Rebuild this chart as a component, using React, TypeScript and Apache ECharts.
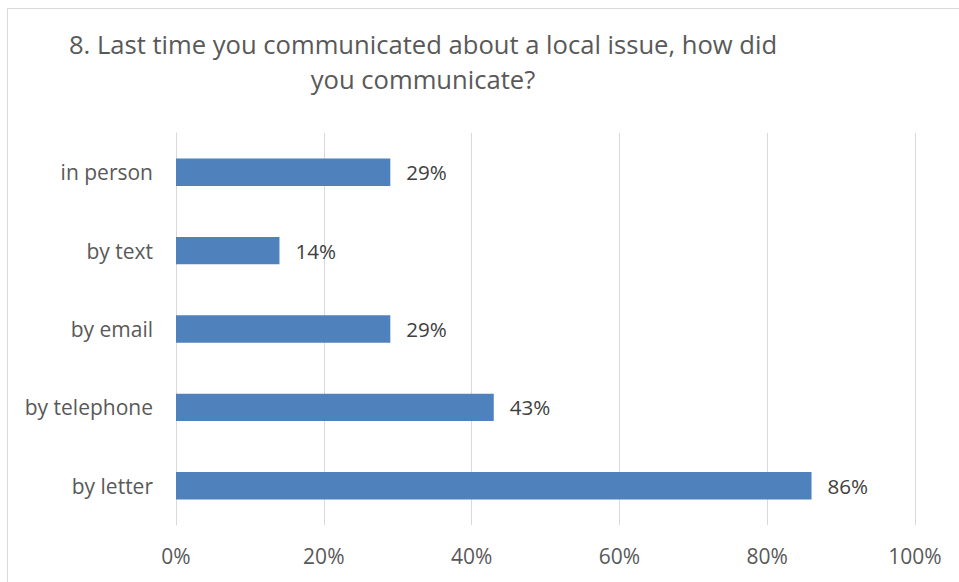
import React, { useEffect, useRef } from "react";
import * as echarts from "echarts";

const categories = ["in person", "by text", "by email", "by telephone", "by letter"];
const values = [29, 14, 29, 43, 86];
const xTicks = [0, 20, 40, 60, 80, 100];
const titleLines = ["8. Last time you communicated about a local issue, how did", "you communicate?"];

export default function App() {
  const ref = useRef<HTMLDivElement>(null);
  useEffect(() => {
    if (!ref.current) return;
    const chart = echarts.init(ref.current, undefined, { renderer: "svg" });
    const font = "'Open Sans', 'Liberation Sans', sans-serif";
    chart.setOption({
      animation: false,
      backgroundColor: "#ffffff",
      textStyle: { fontFamily: font },
      graphic: [
        {
          type: "rect",
          shape: { x: 7.5, y: 8.5, width: 1000, height: 1000 },
          style: { fill: "none", stroke: "#d9d9d9", lineWidth: 1 },
          silent: true,
        },
        {
          type: "text",
          x: 423,
          y: 44,
          style: {
            text: titleLines[0],
            font: `25.6px ${font}`,
            fill: "#595959",
            textAlign: "center",
            textVerticalAlign: "middle",
          },
        },
        {
          type: "text",
          x: 423,
          y: 79,
          style: {
            text: titleLines[1],
            font: `25.6px ${font}`,
            fill: "#595959",
            textAlign: "center",
            textVerticalAlign: "middle",
          },
        },
      ],
      grid: { left: 176, right: 44, top: 133, bottom: 57, containLabel: false },
      xAxis: {
        type: "value",
        min: xTicks[0],
        max: xTicks[xTicks.length - 1],
        interval: 20,
        axisLine: { show: false },
        axisTick: { show: false },
        splitLine: { show: true, lineStyle: { color: "#d9d9d9", width: 1 } },
        axisLabel: {
          formatter: (v: number) => `${v}%`,
          color: "#595959",
          fontSize: 21,
          fontFamily: font,
          margin: 20,
        },
      },
      yAxis: {
        type: "category",
        data: categories,
        inverse: true,
        axisLine: { show: true, lineStyle: { color: "#d9d9d9", width: 1 } },
        axisTick: { show: false },
        axisLabel: { color: "#595959", fontSize: 21, fontFamily: font, margin: 23 },
      },
      series: [
        {
          type: "bar",
          data: values,
          barWidth: "35%",
          itemStyle: { color: "#4f81bd" },
          label: {
            show: true,
            position: "right",
            distance: 16,
            formatter: (p: any) => `${p.value}%`,
            color: "#404040",
            fontSize: 20.6,
            fontFamily: font,
          },
        },
      ],
    });
    return () => chart.dispose();
  }, []);
  return (
    <div
      ref={ref}
      style={{ position: "fixed", left: 0, top: 0, width: 959, height: 582 }}
    />
  );
}
